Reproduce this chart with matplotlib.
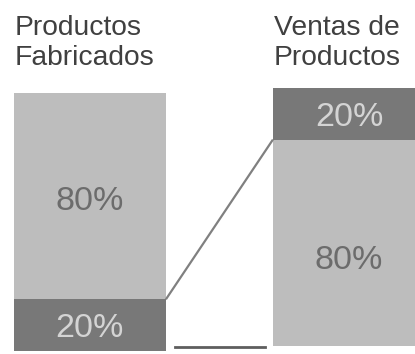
import matplotlib.pyplot as plt

# two stacked bars: share of products made vs. share of sales
titles = ["Productos\nFabricados", "Ventas de\nProductos"]
bottom_pct = [20, 80]
top_pct = [80, 20]
baseline = [0, 1.9]

light = "#bdbdbd"
dark = "#787878"
col_bottom = [dark, light]
col_top = [light, dark]
txt_on = {light: "#6c6c6c", dark: "#d4d4d4"}
# where each label sits inside its block (fraction of block height)
frac_bottom = [0.5, 0.43]
frac_top = [0.49, 0.5]

plt.rcParams["font.family"] = ["Liberation Sans", "DejaVu Sans"]

fig = plt.figure(figsize=(4.15, 3.54), dpi=100)
ax = fig.add_axes([0, 0, 1, 1])
ax.axis("off")

x = [0, 1]
w = 0.587
ax.bar(x, bottom_pct, width=w, bottom=baseline, color=col_bottom, linewidth=0)
tops_base = [b + p for b, p in zip(baseline, bottom_pct)]
ax.bar(x, top_pct, width=w, bottom=tops_base, color=col_top, linewidth=0)

for i in range(2):
    ax.text(x[i], baseline[i] + bottom_pct[i] * frac_bottom[i], f"{bottom_pct[i]}%",
            ha="center", va="center_baseline", fontsize=24.5,
            color=txt_on[col_bottom[i]])
    ax.text(x[i], tops_base[i] + top_pct[i] * frac_top[i], f"{top_pct[i]}%",
            ha="center", va="center_baseline", fontsize=24.5,
            color=txt_on[col_top[i]])
    ax.text(x[i] - w / 2 + 0.003, 130, titles[i], ha="left", va="top",
            fontsize=20.3, color="#404040", linespacing=1.2)

# connector from the 20% block to the 20% block
ax.plot([x[0] + w / 2, x[1] - w / 2],
        [baseline[0] + bottom_pct[0], baseline[1] + bottom_pct[1]],
        color="#808080", linewidth=1.6, solid_capstyle="butt")

# short floor line between the bars
ax.plot([x[0] + w / 2 + 0.035, x[1] - w / 2 - 0.03], [1.5, 1.5],
        color="#5e5e5e", linewidth=2)

ax.set_xlim(-0.347, 1.255)
ax.set_ylim(-1.2, 136)

fig.savefig("out.png", dpi=100)
